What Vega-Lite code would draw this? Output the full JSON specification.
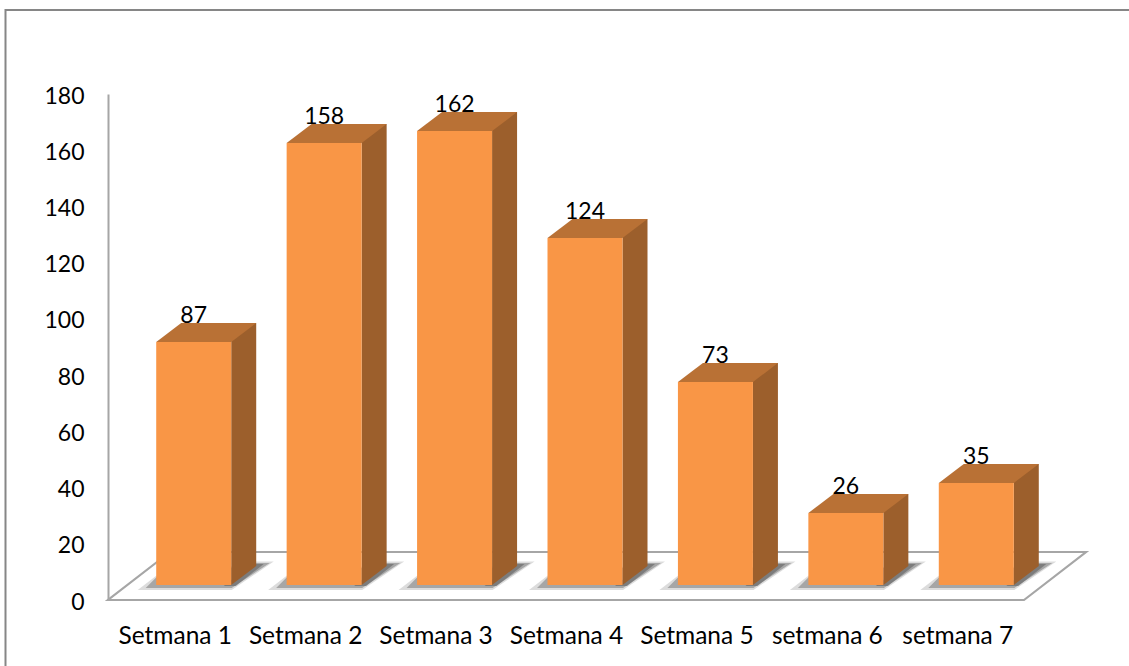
{
"$schema":"https://vega.github.io/schema/vega-lite/v6.json",
"width":913,"height":506,
"autosize":{"type":"none"},
"padding":{"left":108,"top":94,"right":108,"bottom":66},
"background":"white",
"config":{"view":{"stroke":null},"font":"Lato"},
"data":{"values":[
{"week":"Setmana 1","value":87,"drawn":86.4},
{"week":"Setmana 2","value":158,"drawn":157.2},
{"week":"Setmana 3","value":162,"drawn":161.5},
{"week":"Setmana 4","value":124,"drawn":123.4},
{"week":"Setmana 5","value":73,"drawn":72.2},
{"week":"setmana 6","value":26,"drawn":25.6},
{"week":"setmana 7","value":35,"drawn":36.3}
]},
"encoding":{
"x":{"field":"week","type":"nominal","title":null,
 "scale":{"domain":["Setmana 1","Setmana 2","Setmana 3","Setmana 4","Setmana 5","setmana 6","setmana 7"],"paddingInner":0,"paddingOuter":0},
 "axis":{"domain":false,"ticks":false,"labelAngle":0,"labelFontSize":24.5,"labelColor":"#000000","labelPadding":24,"labelOffset":2,"labelFont":"Lato"}},
"y":{"type":"quantitative","title":null,"scale":{"domain":[0,180],"nice":false}}
},
"layer":[
{"data":{"values":[{"week":"Setmana 4","base":0}]},
 "mark":{"type":"point","shape":"M-5.59,0.75 L-5.59,-5.9 L5.715,-5.9","size":40000,"filled":false,"fill":null,"stroke":"#868686","strokeWidth":2,"opacity":1},
 "encoding":{"y":{"field":"base","type":"quantitative"}}},
{"data":{"values":[{"week":"Setmana 4","base":0}]},
 "mark":{"type":"point","shape":"M-4.565,0 L4.595,0 L5.215,-0.48 L-3.945,-0.48 Z","size":40000,"filled":false,"fill":null,"stroke":"#a6a6a6","strokeWidth":2.2,"opacity":1},
 "encoding":{"y":{"field":"base","type":"quantitative"}}},
{"mark":{"type":"point","shape":"M-0.56,-0.1 L0.38,-0.1 L0.8,-0.385 L0.5,-0.385 L0.3,-0.3 L-0.3,-0.3 Z","size":40000,"filled":true,"fill":"#8c8c8c","stroke":null,"opacity":0.3,"xOffset":20.5},
 "encoding":{"y":{"datum":0}}},
{"mark":{"type":"point","shape":"M-0.48,-0.12 L0.38,-0.12 L0.76,-0.37 L0.55,-0.37 L0.3,-0.3 L-0.3,-0.3 Z","size":40000,"filled":true,"fill":"#707070","stroke":null,"opacity":0.5,"xOffset":20.5},
 "encoding":{"y":{"datum":0}}},
{"mark":{"type":"point","shape":"M0.3,-0.14 L0.42,-0.14 L0.7,-0.36 L0.58,-0.36 Z","size":40000,"filled":true,"fill":"#606060","stroke":null,"opacity":0.6,"xOffset":20.5},
 "encoding":{"y":{"datum":0}}},
{"mark":{"type":"bar","size":25,"fill":"#9c5f2c","xOffset":70.5,"yOffset":-34,"y2Offset":-34},
 "encoding":{"y":{"field":"drawn","type":"quantitative"},"y2":{"datum":0}}},
{"mark":{"type":"point","shape":"M0.375,0 L0.625,-0.19 L0.375,-0.19 Z","size":40000,"filled":true,"fill":"#9c5f2c","stroke":null,"opacity":1,"xOffset":20.5,"yOffset":-15},
 "encoding":{"y":{"datum":0}}},
{"mark":{"type":"point","shape":"M-0.375,0 L0.375,0 L0.625,-0.19 L-0.125,-0.19 Z","size":40000,"filled":true,"fill":"#b97135","stroke":null,"opacity":1,"xOffset":20.5,"yOffset":-15},
 "encoding":{"y":{"field":"drawn","type":"quantitative"}}},
{"mark":{"type":"bar","size":75,"fill":"#f99646","xOffset":20.5,"yOffset":-15,"y2Offset":-15},
 "encoding":{"y":{"field":"drawn","type":"quantitative"},"y2":{"datum":0}}},
{"mark":{"type":"text","fontSize":23,"font":"Lato","color":"#000000","baseline":"alphabetic","align":"center","xOffset":20.5,"yOffset":-34},
 "encoding":{"y":{"field":"drawn","type":"quantitative","axis":{"domainColor":"#a6a6a6","domainWidth":2,"ticks":false,"grid":false,"values":[0,20,40,60,80,100,120,140,160,180],"labelFontSize":23,"labelColor":"#000000","labelPadding":24,"labelOffset":2,"labelFont":"Lato"}},"text":{"field":"value","type":"quantitative"}}}
]
}
